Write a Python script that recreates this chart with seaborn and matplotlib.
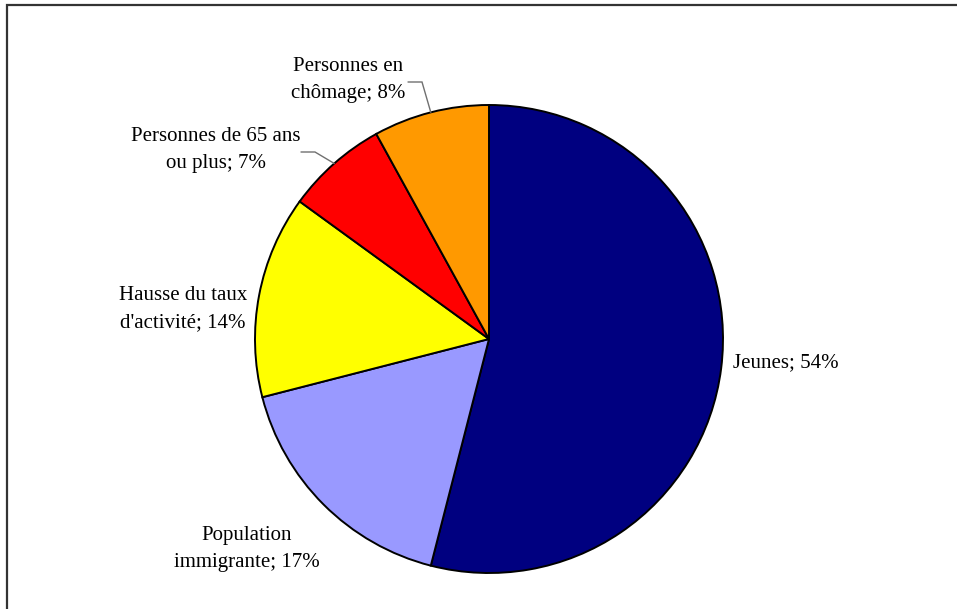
import numpy as np
import matplotlib
matplotlib.use("Agg")
import matplotlib.pyplot as plt
import seaborn as sns

# Sources of labour-force growth (share of total, %)
categories = ["Jeunes", "Population\nimmigrante", "Hausse du taux\nd'activité",
              "Personnes de 65 ans\nou plus", "Personnes en\nchômage"]
shares = [54, 17, 14, 7, 8]
colors = ["#000080", "#9999FF", "#FFFF00", "#FF0000", "#FF9900"]

sns.set_theme(style="white")
plt.rcParams["font.family"] = ["Liberation Serif", "DejaVu Serif"]

W, H = 957, 609
fig = plt.figure(figsize=(W / 100, H / 100), dpi=100)
ax = fig.add_axes([0, 0, 1, 1])
ax.set_xlim(0, W)
ax.set_ylim(0, H)
ax.set_aspect("equal")
ax.axis("off")

cx, cy, r = 489, H - 339, 234
wedges, _ = ax.pie(shares, colors=colors, startangle=90, counterclock=False,
                   center=(cx, cy), radius=r, frame=True,
                   wedgeprops=dict(edgecolor="black", linewidth=1.4))
ax.set_xlim(0, W)
ax.set_ylim(0, H)
ax.axis("off")

# label text anchor (pixel coords, y from top) and optional leader elbow
label_layout = [
    dict(pos=(733, 363), ha="left", leader=None),
    dict(pos=(247, 549), ha="center", leader=None),
    dict(pos=(183, 309), ha="center", leader=None),
    dict(pos=(216, 150), ha="center", leader=((301, 152), (315, 152))),
    dict(pos=(348, 80), ha="center", leader=((408, 82), (422, 82))),
]

for w, name, val, lay in zip(wedges, categories, shares, label_layout):
    x, y = lay["pos"]
    ax.text(x, H - y, f"{name}; {val}%", ha=lay["ha"], va="center",
            fontsize=15, color="black", linespacing=1.55)
    if lay["leader"] is not None:
        mid = np.deg2rad((w.theta1 + w.theta2) / 2)
        ex, ey = cx + r * np.cos(mid), cy + r * np.sin(mid)
        (sx, sy), (bx, by) = lay["leader"]
        ax.plot([sx, bx, ex], [H - sy, H - by, ey], color="#707070",
                lw=1.0, solid_joinstyle="miter", zorder=5)

# outer frame (clipped at the right and bottom)
ax.plot([7, 7, W + 5], [-5, H - 5, H - 5], color="#333333", lw=1.6,
        clip_on=False, solid_joinstyle="miter")

fig.savefig("out.png", dpi=100)
